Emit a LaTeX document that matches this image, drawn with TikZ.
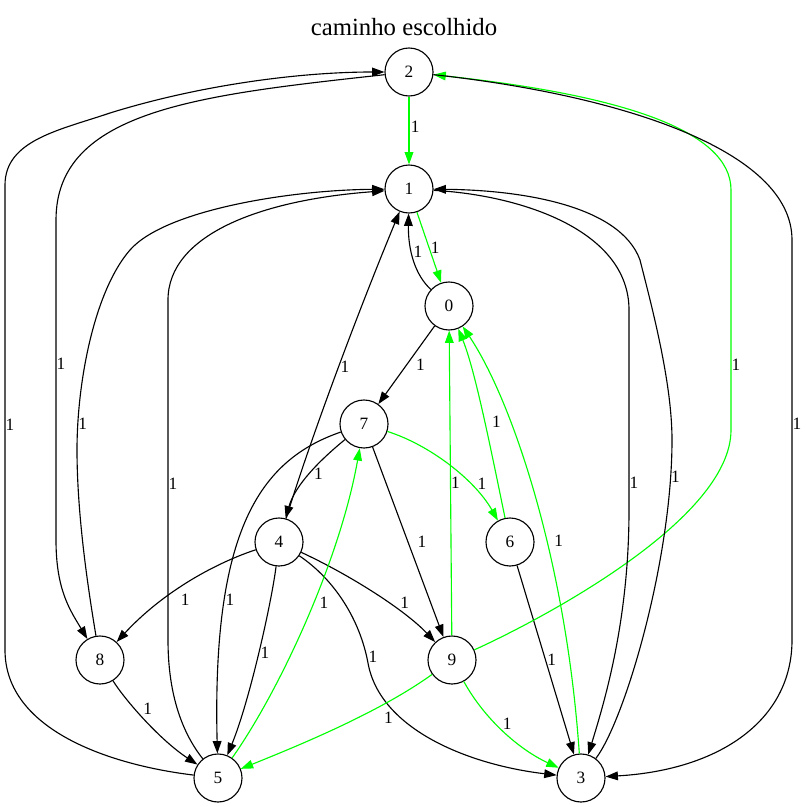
\documentclass[tikz,border=0pt]{standalone}
\usepackage{fontspec}
\setmainfont{Liberation Serif}
\usetikzlibrary{arrows.meta}
\definecolor{pathgreen}{RGB}{0,255,0}
\tikzset{
	vtx/.style={circle, draw, line width=0.8pt, minimum size=1.2cm, inner sep=0pt, font=\fontsize{12.3}{14}\selectfont},
	lbl/.style={text=black, font=\fontsize{12.3}{14}\selectfont, inner sep=1pt},
	arc/.style={line width=0.8pt, -{Triangle[length=8.8pt,width=6.2pt]}},
	plain/.style={arc, black},
	chosen/.style={arc, pathgreen}
}
\begin{document}
\begin{tikzpicture}[x=0.025cm, y=-0.025cm]
	\useasboundingbox (0,0) rectangle (806,807);
	\node[font=\fontsize{17.6}{20}\selectfont] (title) at (404,27) {caminho escolhido};
	\node[vtx] (n2) at (409,72) {2};
	\node[vtx] (n1) at (409,189) {1};
	\node[vtx] (n0) at (449,306) {0};
	\node[vtx] (n7) at (364,424) {7};
	\node[vtx] (n4) at (279,542) {4};
	\node[vtx] (n6) at (510,542) {6};
	\node[vtx] (n8) at (100,660) {8};
	\node[vtx] (n9) at (452,660) {9};
	\node[vtx] (n5) at (218,778) {5};
	\node[vtx] (n3) at (581,778) {3};
	\path
	(n2) edge [chosen] node [lbl, right, pos=0.45] {1} (n1)
	(n1) edge [chosen] node [lbl, right, pos=0.5] {1} (n0)
	(n0) edge [plain] node [lbl, right=5.5pt, pos=0.5] {1} (n7)
	(n7) edge [plain] node [lbl, right=5.5pt, pos=0.5] {1} (n9)
	(n6) edge [plain] node [lbl, right, pos=0.5] {1} (n3)
	(n9) edge [chosen] node [lbl, right, inner sep=0pt, pos=0.5] {1} (n0);
	\draw[plain] (n0) .. controls (415,275) and (408,250) .. (n1) node [lbl, right, pos=0.6] {1};
	\draw[plain] (n4) .. controls (310,440) and (358,312) .. (n1) node [lbl, right, pos=0.52] {1};
	\draw[plain] (n7) .. controls (320,460) and (295,485) .. (n4) node [lbl, right=2pt, pos=0.5] {1};
	\draw[chosen] (n7) .. controls (430,445) and (475,480) .. (n6) node [lbl, right=4pt, pos=0.68] {1};
	\draw[plain] (n7) .. controls (260,460) and (212,530) .. (n5) node [lbl, anchor=west, inner sep=0pt, pos=0.72] {1};
	\draw[plain] (n4) .. controls (210,565) and (160,595) .. (n8) node [lbl, below=6pt, pos=0.5] {1};
	\draw[plain] (n4) .. controls (272,600) and (250,700) .. (n5) node [lbl, right, pos=0.5] {1};
	\draw[plain] (n4) .. controls (350,575) and (405,610) .. (n9) node [lbl, above=3pt, pos=0.72] {1};
	\draw[plain] (n4) .. controls (335,580) and (360,620) .. (368,663) node [lbl, right, pos=0.95] {1}
		.. controls (380,730) and (470,765) .. (n3);
	\draw[chosen] (n6) .. controls (490,445) and (475,370) .. (n0) node [lbl, right=4pt, pos=0.45] {1};
	\draw[chosen] (n9) .. controls (540,620) and (731,520) .. (731,430)
		-- node [lbl, right, inner sep=0pt, pos=0.27] {1} (731,190)
		.. controls (731,130) and (620,95) .. (n2);
	\draw[chosen] (n9) .. controls (380,712) and (300,745) .. (n5) node [lbl, below=6pt, pos=0.25] {1};
	\draw[chosen] (n9) .. controls (485,720) and (520,750) .. (n3) node [lbl, right=4pt, pos=0.4] {1};
	\draw[chosen] (n3) .. controls (566,560) and (512,400) .. (n0) node [lbl, right=4pt, pos=0.4] {1};
	\draw[plain] (n1) .. controls (520,195) and (629,230) .. (629,310)
		-- node [lbl, right, inner sep=0pt, pos=0.865] {1} (629,510)
		.. controls (629,620) and (605,700) .. (n3);
	\draw[plain] (n3) .. controls (625,720) and (672,560) .. (672,440) node [lbl, right, inner sep=0pt, pos=0.9] {1}
		.. controls (672,380) and (650,300) .. (640,260)
		.. controls (620,205) and (520,190) .. (n1);
	\draw[plain] (n2) .. controls (620,95) and (792,150) .. (792,240)
		-- node [lbl, right, inner sep=0pt, pos=0.46] {1} (792,640)
		.. controls (792,720) and (720,770) .. (n3);
	\draw[plain] (n2) .. controls (200,95) and (56,110) .. (56,220)
		-- node [lbl, right, inner sep=0pt, pos=0.45] {1} (56,540)
		.. controls (56,590) and (70,610) .. (n8);
	\draw[plain] (n5) .. controls (110,765) and (5,730) .. (5,650)
		-- node [lbl, right, inner sep=0pt, pos=0.484] {1} (5,185)
		.. controls (5,140) and (60,130) .. (110,113)
		.. controls (200,85) and (300,72) .. (n2);
	\draw[plain] (n8) .. controls (90,600) and (77,520) .. (77,450)
		.. controls (77,380) and (95,290) .. (130,250) node [lbl, right, inner sep=0pt, pos=0.12] {1}
		.. controls (165,210) and (290,190) .. (n1);
	\draw[plain] (n8) .. controls (125,700) and (160,740) .. (n5) node [lbl, above right, pos=0.45] {1};
	\draw[plain] (n5) .. controls (180,730) and (168,690) .. (168,640)
		-- node [lbl, right, inner sep=0pt, pos=0.46] {1} (168,300)
		.. controls (168,235) and (260,200) .. (n1);
	\draw[chosen] (n5) .. controls (280,690) and (340,560) .. (n7) node [lbl, right=3pt, pos=0.55] {1};
\end{tikzpicture}
\end{document}
